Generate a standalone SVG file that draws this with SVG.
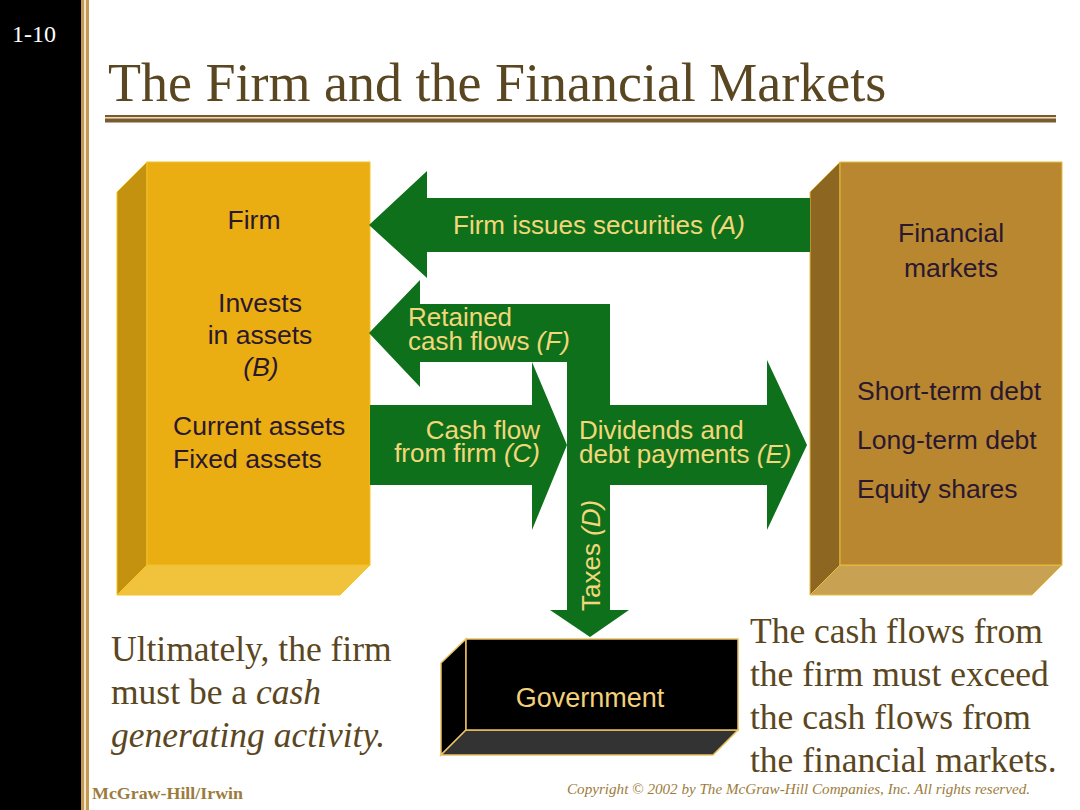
<svg xmlns="http://www.w3.org/2000/svg" width="1080" height="810" viewBox="0 0 1080 810">
<defs>
<style>
.sans{font-family:"Liberation Sans",Arial,sans-serif;}
.serif{font-family:"Liberation Serif","Times New Roman",serif;}
.arrow{fill:#0f701b;}
.alabel{font-family:"Liberation Sans",Arial,sans-serif;font-size:26px;fill:#f3d77a;}
.boxtxt{font-family:"Liberation Sans",Arial,sans-serif;font-size:26.5px;fill:#2a1830;}
.body{font-family:"Liberation Serif","Times New Roman",serif;font-size:35.5px;fill:#5a4621;}
</style>
</defs>
<rect x="0" y="0" width="1080" height="810" fill="#ffffff"/>
<!-- left bar -->
<rect x="0" y="0" width="81" height="810" fill="#000000"/>
<rect x="81" y="0" width="3" height="810" fill="#c49a52"/>
<rect x="84" y="0" width="2" height="810" fill="#f3e6c8"/>
<rect x="86" y="0" width="3" height="810" fill="#c49a52"/>
<text x="12" y="42" class="serif" font-size="24" fill="#ffffff">1-10</text>
<!-- title -->
<text x="108" y="101" class="serif" font-size="54" fill="#5a4621">The Firm and the Financial Markets</text>
<rect x="105" y="115" width="951" height="2" fill="#7a5a30"/>
<rect x="105" y="117" width="951" height="1.5" fill="#f0dca8"/>
<rect x="105" y="118.5" width="951" height="4" fill="#7a5a30"/>

<!-- Firm node -->
<g id="firm">
<polygon points="117,192 147,162 147,565 117,595" fill="#c4920e" stroke="#f2c426" stroke-width="1"/>
<polygon points="117,595 147,565 370,565 340,595" fill="#f1c23c" stroke="#f2c426" stroke-width="1"/>
<rect x="147" y="162" width="223" height="403" fill="#eaae12" stroke="#f2c426" stroke-width="1"/>
<text x="254" y="229" class="boxtxt" font-size="28" text-anchor="middle">Firm</text>
<text x="260" y="312" class="boxtxt" text-anchor="middle">Invests</text>
<text x="260" y="344" class="boxtxt" text-anchor="middle">in assets</text>
<text x="261" y="376" class="boxtxt" text-anchor="middle" font-style="italic">(B)</text>
<text x="173" y="435" class="boxtxt">Current assets</text>
<text x="173" y="468" class="boxtxt">Fixed assets</text>
</g>

<!-- Financial markets node -->
<g id="financial-markets">
<polygon points="810,192 840,162 840,565 810,595" fill="#8d6622" stroke="#e6bd3e" stroke-width="1"/>
<polygon points="810,595 840,565 1062,565 1032,595" fill="#c9a152" stroke="#e6bd3e" stroke-width="1"/>
<rect x="840" y="162" width="222" height="403" fill="#b8872f" stroke="#e6bd3e" stroke-width="1"/>
<text x="951" y="242" class="boxtxt" font-size="28" text-anchor="middle">Financial</text>
<text x="951" y="277" class="boxtxt" font-size="28" text-anchor="middle">markets</text>
<text x="857" y="400" class="boxtxt">Short-term debt</text>
<text x="857" y="449" class="boxtxt">Long-term debt</text>
<text x="857" y="498" class="boxtxt">Equity shares</text>
</g>

<!-- Government node -->
<g id="government">
<polygon points="441,663 466,639 466,730 441,755" fill="#000000" stroke="#e8c060" stroke-width="1.5"/>
<polygon points="441,755 466,730 738,730 713,755" fill="#333333" stroke="#e8c060" stroke-width="1.5"/>
<rect x="466" y="639" width="272" height="91" fill="#000000" stroke="#e8c060" stroke-width="1.5"/>
<text x="590" y="707" class="sans" font-size="27" fill="#f3d07a" text-anchor="middle">Government</text>
</g>

<!-- connectors -->
<g id="connectors">
<polygon class="arrow" points="810,198 427,198 427,171 369,225 427,278 427,252 810,252"/>
<polygon class="arrow" points="369,333 420,280 420,304 610,304 610,362 420,362 420,387"/>
<polygon class="arrow" points="567,304 610,304 610,610 629,610 590,637 550,610 567,610"/>
<polygon class="arrow" points="600,405 767,405 767,360 807,445 767,530 767,485 600,485"/>
<polygon class="arrow" points="370,405 532,405 532,362 567,445 532,530 532,485 370,485"/>
<text x="453" y="234" class="alabel" font-size="26.5">Firm issues securities <tspan font-style="italic">(A)</tspan></text>
<text x="408" y="326" class="alabel">Retained</text>
<text x="408" y="350" class="alabel">cash flows <tspan font-style="italic">(F)</tspan></text>
<text x="540" y="439" class="alabel" text-anchor="end">Cash flow</text>
<text x="540" y="462" class="alabel" text-anchor="end">from firm <tspan font-style="italic">(C)</tspan></text>
<text x="579" y="439" class="alabel">Dividends and</text>
<text x="579" y="463" class="alabel">debt payments <tspan font-style="italic">(E)</tspan></text>
<text x="0" y="0" class="alabel" transform="translate(600,611) rotate(-90)">Taxes <tspan font-style="italic">(D)</tspan></text>
</g>

<!-- body text -->
<text class="body" x="111" y="661">Ultimately, the firm</text>
<text class="body" x="111" y="704">must be a <tspan font-style="italic">cash</tspan></text>
<text class="body" x="111" y="747" font-style="italic">generating activity.</text>
<text class="body" x="750" y="643">The cash flows from</text>
<text class="body" x="750" y="686">the firm must exceed</text>
<text class="body" x="750" y="729">the cash flows from</text>
<text class="body" x="750" y="772">the financial markets.</text>

<!-- footer -->
<text x="92" y="799" class="serif" font-size="17" font-weight="bold" fill="#9c7c3c" textLength="151" lengthAdjust="spacingAndGlyphs">McGraw-Hill/Irwin</text>
<text x="567" y="794" class="serif" font-size="14" font-style="italic" fill="#9c7c3c" textLength="463" lengthAdjust="spacingAndGlyphs">Copyright © 2002 by The McGraw-Hill Companies, Inc.  All rights reserved.</text>
</svg>
